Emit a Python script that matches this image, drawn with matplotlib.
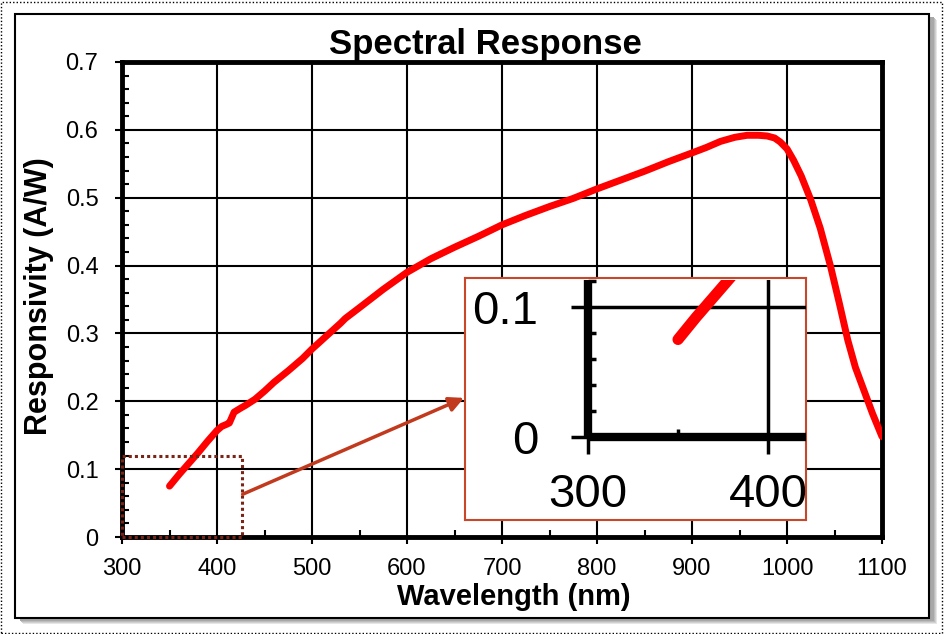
import matplotlib
matplotlib.use("Agg")
import matplotlib.pyplot as plt
from matplotlib.patches import Rectangle
from matplotlib.ticker import MultipleLocator

plt.rcParams['font.family'] = ['Liberation Sans', 'DejaVu Sans']

# ---- data ----
wavelength = [350, 360, 370, 380, 390, 400, 405, 410, 413, 418, 425, 430, 440, 450,
              460, 475, 490, 500, 515, 530, 535, 550, 575, 600, 625, 650, 675, 700,
              725, 750, 775, 800, 825, 850, 875, 900, 915, 930, 945, 958, 970, 979,
              987, 993, 1000, 1007, 1015, 1025, 1035, 1046, 1055, 1064, 1072, 1081,
              1090, 1100]
responsivity = [0.075, 0.092, 0.108, 0.124, 0.141, 0.157, 0.163, 0.166, 0.168, 0.184,
                0.190, 0.194, 0.203, 0.215, 0.228, 0.245, 0.263, 0.277, 0.296, 0.315,
                0.322, 0.338, 0.365, 0.390, 0.410, 0.427, 0.443, 0.460, 0.474, 0.487,
                0.499, 0.513, 0.526, 0.539, 0.553, 0.566, 0.574, 0.583, 0.589, 0.592,
                0.592, 0.591, 0.588, 0.582, 0.572, 0.555, 0.532, 0.497, 0.455, 0.398,
                0.345, 0.290, 0.250, 0.216, 0.182, 0.148]

x_ticks = [300, 400, 500, 600, 700, 800, 900, 1000, 1100]
y_ticks = [0, 0.1, 0.2, 0.3, 0.4, 0.5, 0.6, 0.7]
y_tick_labels = ['0', '0.1', '0.2', '0.3', '0.4', '0.5', '0.6', '0.7']
inset_x_ticks = [300, 400]
inset_y_ticks = [0, 0.1]
inset_y_labels = ['0', '0.1']

title = "Spectral Response"
x_label = "Wavelength (nm)"
y_label = "Responsivity (A/W)"

W, H = 944, 634
fig = plt.figure(figsize=(W / 100, H / 100), dpi=100)
fig.patch.set_facecolor('white')

def fx(px):
    return px / W

def fy(py):
    return 1 - py / H

# outer dotted border
fig.add_artist(Rectangle((0.001, 0.002), 0.997, 0.995, transform=fig.transFigure,
                         fill=False, edgecolor='black', linestyle=(0, (1, 1.5)),
                         lw=1, zorder=-5))
# frame shadow (soft) + frame
for i, c in enumerate(['#e6e6e6', '#d0d0d0', '#bdbdbd', '#a8a8a8']):
    off = 6 - i
    fig.add_artist(Rectangle((fx(15 + off + 2), fy(618 + off)), fx(914), 604 / H,
                             transform=fig.transFigure, facecolor=c,
                             edgecolor='none', zorder=-4))
fig.add_artist(Rectangle((fx(15), fy(618)), fx(914), 604 / H, transform=fig.transFigure,
                         facecolor='white', edgecolor='black', lw=1.5, zorder=-3))

# ---- main axes ----
ax = fig.add_axes([fx(122), fy(537), fx(882 - 122), (537 - 62) / H])
ax.set_facecolor('white')
ax.plot(wavelength, responsivity, color='#ff0000', lw=5, solid_capstyle='round',
        solid_joinstyle='round', zorder=3)
ax.set_xlim(300, 1100)
ax.set_ylim(0, 0.7)
ax.set_xticks(x_ticks)
ax.set_yticks(y_ticks)
ax.set_yticklabels(y_tick_labels)
ax.xaxis.set_minor_locator(MultipleLocator(50))
ax.yaxis.set_minor_locator(MultipleLocator(0.02))
ax.grid(True, which='major', color='black', lw=1.5)
ax.set_axisbelow(True)
ax.tick_params(which='major', direction='out', length=5, width=1.5,
               labelsize=17, pad=10, colors='black')
ax.tick_params(axis='y', which='major', pad=12)
ax.tick_params(which='minor', direction='in', length=5, width=1.5)
for s in ax.spines.values():
    s.set_linewidth(3.5)
    s.set_color('black')

# dotted zoom rectangle
ax.add_patch(Rectangle((300, 0), 126.5, 0.119, fill=False, edgecolor='#7a2418',
                       linestyle=(0, (1, 1)), lw=2.2, clip_on=False, zorder=6))
# arrow
ax.annotate('', xy=(660, 0.205), xytext=(427, 0.063),
            arrowprops=dict(arrowstyle='-|>', color='#c23a1e', lw=2.5,
                            mutation_scale=22, shrinkA=0, shrinkB=0),
            annotation_clip=False, zorder=6)

# texts
fig.text(fx(485), fy(54), title, fontsize=25, fontweight='bold',
         ha='center', va='baseline')
fig.text(fx(514), fy(605), x_label, fontsize=21, fontweight='bold',
         ha='center', va='baseline')
fig.text(fx(39), fy(296), y_label, fontsize=22, fontweight='bold',
         ha='center', va='center', rotation=90)

# ---- inset box ----
axb = fig.add_axes([fx(465), fy(520), fx(806 - 465), (520 - 278) / H], zorder=3)
axb.set_facecolor('white')
axb.set_xticks([])
axb.set_yticks([])
for s in axb.spines.values():
    s.set_color('#c8472a')
    s.set_linewidth(1.5)

# ---- inset axes ----
axi = fig.add_axes([fx(588), fy(437), fx(806 - 588), (437 - 280) / H], zorder=4)
axi.set_facecolor('none')
axi.plot(wavelength, responsivity, color='#ff0000', lw=8, solid_capstyle='round',
         zorder=3)
axi.set_xlim(300, 300 + (806 - 588) / 1.8)
axi.set_ylim(0, (437 - 280) / 1300)
axi.set_xticks(inset_x_ticks)
axi.set_yticks(inset_y_ticks)
axi.set_yticklabels(inset_y_labels)
axi.xaxis.set_minor_locator(MultipleLocator(50))
axi.yaxis.set_minor_locator(MultipleLocator(0.02))
axi.grid(True, which='major', color='black', lw=2.5)
axi.set_axisbelow(True)
axi.tick_params(which='major', direction='out', length=12, width=2.5,
                labelsize=34, pad=14, colors='black')
axi.tick_params(axis='y', which='major', pad=24)
axi.tick_params(which='minor', direction='in', length=6, width=2.5)
for k in ['top', 'right']:
    axi.spines[k].set_visible(False)
for k in ['left', 'bottom']:
    axi.spines[k].set_linewidth(6)
    axi.spines[k].set_color('black')
    axi.spines[k].set_capstyle('butt')

fig.savefig('out.png', dpi=100, facecolor='white')
